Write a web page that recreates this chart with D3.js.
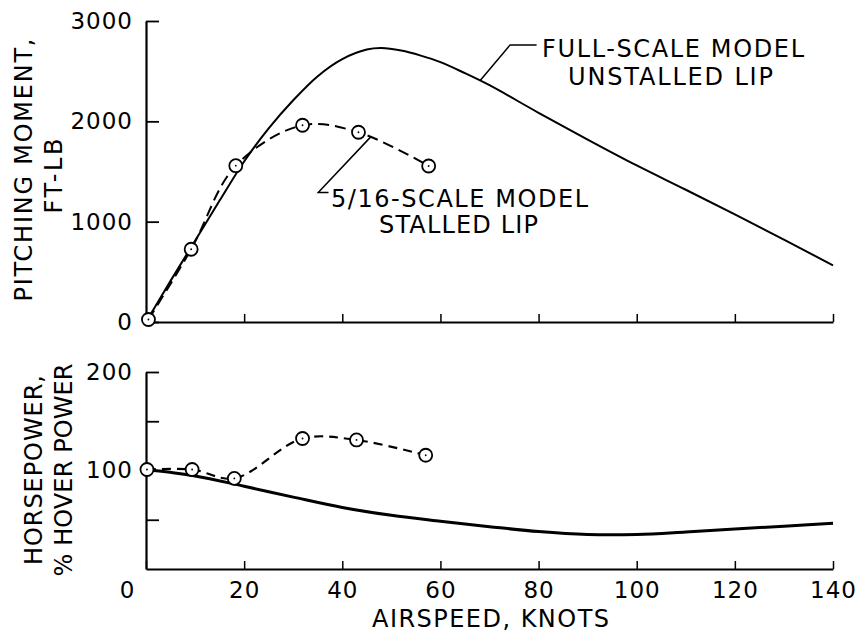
<!DOCTYPE html>
<html>
<head>
<meta charset="utf-8">
<script src="https://cdn.jsdelivr.net/npm/d3@7"></script>
<style>
  body { margin: 0; background: #fff; }
  svg { display: block; }
  text { font-family: "DejaVu Sans", sans-serif; fill: #000; }
  .axis path, .axis line { stroke: #000; }
  .axis text { font-size: 23px; letter-spacing: 1px; }
</style>
</head>
<body>
<svg id="chart" width="864" height="634"></svg>
<script>
// full-scale model, unstalled lip (solid curves)
var knotsFull = [0, 5, 10, 15, 20, 25, 30, 35, 40, 45, 48, 52, 56, 60, 65, 70, 80, 90, 100, 110, 120, 130, 140];
var momentFull = [0, 410, 810, 1210, 1600, 1930, 2210, 2450, 2620, 2715, 2730, 2705, 2655, 2590, 2480, 2360, 2085, 1818, 1560, 1318, 1072, 820, 565];
var knotsFullHp = [0, 10, 20, 30, 40, 50, 60, 70, 80, 90, 100, 110, 120, 130, 140];
var powerFull = [101, 94.5, 84, 73, 62.5, 54.5, 48.5, 43, 38, 35, 35, 37.5, 40.5, 43.5, 46.5];

// 5/16-scale model, stalled lip (dashed with circles)
var knotsModel = [0.5, 9.2, 18.3, 31.9, 43.3, 57.6];
var momentModel = [25, 725, 1558, 1961, 1891, 1555];
var knotsModelHp = [0.2, 9.4, 18, 31.9, 42.9, 57];
var powerModel = [101, 101, 92, 132.5, 131, 115.5];

// ticks
var xTicks = [0, 20, 40, 60, 80, 100, 120, 140];
var momentTicks = [0, 1000, 2000, 3000];
var powerTicks = [50, 100, 150, 200];
var powerLabels = {100: "100", 200: "200"};

var svg = d3.select("#chart");

//Scales
var x = d3.scaleLinear().domain([0, 140]).range([146, 833]);
var yTop = d3.scaleLinear().domain([0, 3000]).range([322, 21]);
var yBot = d3.scaleLinear().domain([0, 200]).range([569, 372]);

function zip(a, b) { return a.map(function(d, i) { return [d, b[i]]; }); }

//Top panel axes
svg.append("g")
    .attr("class", "axis")
    .attr("transform", "translate(0," + yTop(0) + ")")
    .call(d3.axisBottom(x).tickValues(xTicks.slice(1)).tickSize(-8).tickSizeOuter(0).tickFormat(""))
    .call(function(g) { g.select(".domain").attr("stroke-width", 2.2); g.selectAll("line").attr("stroke-width", 1.5); });

svg.append("g")
    .attr("class", "axis")
    .attr("transform", "translate(" + x(0) + ",0)")
    .call(d3.axisLeft(yTop).tickValues(momentTicks).tickSize(-13).tickSizeOuter(0).tickPadding(13)
      .tickFormat(d3.format("d")))
    .call(function(g) { g.select(".domain").attr("stroke-width", 2.2); g.selectAll("line").attr("stroke-width", 1.8); });

//Bottom panel axes
svg.append("g")
    .attr("class", "axis")
    .attr("transform", "translate(0," + yBot(0) + ")")
    .call(d3.axisBottom(x).tickValues(xTicks).tickSize(-8).tickSizeOuter(0).tickPadding(13))
    .call(function(g) {
      g.select(".domain").attr("stroke-width", 2.2);
      g.selectAll("line").attr("stroke-width", 1.5);
      g.selectAll(".tick text").filter(function(d) { return d === 0; }).attr("dx", -19);
    });

svg.append("g")
    .attr("class", "axis")
    .attr("transform", "translate(" + x(0) + ",0)")
    .call(d3.axisLeft(yBot).tickValues(powerTicks).tickSize(-13).tickSizeOuter(0).tickPadding(13)
      .tickFormat(function(d) { return powerLabels[d] || ""; }))
    .call(function(g) { g.select(".domain").attr("stroke-width", 2.2); g.selectAll("line").attr("stroke-width", 1.8); });

//Curves
var lineTop = d3.line().curve(d3.curveCatmullRom)
    .x(function(d) { return x(d[0]); }).y(function(d) { return yTop(d[1]); });
var lineBot = d3.line().curve(d3.curveCatmullRom)
    .x(function(d) { return x(d[0]); }).y(function(d) { return yBot(d[1]); });

svg.append("path").datum(zip(knotsFull, momentFull))
    .attr("d", lineTop).attr("fill", "none").attr("stroke", "#000").attr("stroke-width", 2);

svg.append("path").datum(zip(knotsModel, momentModel))
    .attr("d", lineTop).attr("fill", "none").attr("stroke", "#000").attr("stroke-width", 2)
    .attr("stroke-dasharray", "11,6");

svg.append("path").datum(zip(knotsFullHp, powerFull))
    .attr("d", lineBot).attr("fill", "none").attr("stroke", "#000").attr("stroke-width", 3);

svg.append("path").datum(zip(knotsModelHp, powerModel))
    .attr("d", lineBot).attr("fill", "none").attr("stroke", "#000").attr("stroke-width", 2.2)
    .attr("stroke-dasharray", "9,6");

//Circles with centre dots
function drawPoints(data, yScale) {
  var g = svg.append("g");
  g.selectAll("circle.pt").data(data).enter().append("circle")
      .attr("class", "pt")
      .attr("cx", function(d) { return x(d[0]); })
      .attr("cy", function(d) { return yScale(d[1]); })
      .attr("r", 6.5)
      .attr("fill", "#fff").attr("stroke", "#000").attr("stroke-width", 1.8);
  g.selectAll("circle.dot").data(data).enter().append("circle")
      .attr("class", "dot")
      .attr("cx", function(d) { return x(d[0]); })
      .attr("cy", function(d) { return yScale(d[1]); })
      .attr("r", 0.9).attr("fill", "#000");
}
drawPoints(zip(knotsModel, momentModel), yTop);
drawPoints(zip(knotsModelHp, powerModel), yBot);

//Leader lines for the labels
var leader = d3.line().x(function(d) { return x(d[0]); }).y(function(d) { return yTop(d[1]); });
svg.append("path").datum([[68.1, 2406], [74.2, 2762], [79.6, 2762]])
    .attr("d", leader).attr("fill", "none").attr("stroke", "#000").attr("stroke-width", 1.5);
svg.append("path").datum([[45.8, 1845], [35.1, 1290], [37.2, 1290]])
    .attr("d", leader).attr("fill", "none").attr("stroke", "#000").attr("stroke-width", 1.5);

//Annotation text
function label(txt, x0, y0, len) {
  svg.append("text").attr("x", x0).attr("y", y0)
      .attr("textLength", len).attr("lengthAdjust", "spacing")
      .style("font-size", "24px").text(txt);
}
label("FULL-SCALE MODEL", 542, 56.5, 262);
label("UNSTALLED LIP", 568, 85, 205);
label("5/16-SCALE MODEL", 331, 207, 257);
label("STALLED LIP", 379, 233, 159);

//Axis titles
function vlabel(txt, bx, cy, len) {
  svg.append("text")
      .attr("transform", "translate(" + bx + "," + cy + ") rotate(-90)")
      .attr("text-anchor", "middle")
      .attr("textLength", len).attr("lengthAdjust", "spacing")
      .style("font-size", "24px").text(txt);
}
vlabel("PITCHING MOMENT,", 31.5, 170, 263);
vlabel("FT-LB", 61.5, 176, 75);
vlabel("HORSEPOWER,", 41.5, 470, 190);
vlabel("% HOVER POWER", 71.5, 470, 213);

svg.append("text")
    .attr("x", 372).attr("y", 627)
    .attr("textLength", 237).attr("lengthAdjust", "spacing")
    .style("font-size", "24px")
    .text("AIRSPEED, KNOTS");
</script>
</body>
</html>
